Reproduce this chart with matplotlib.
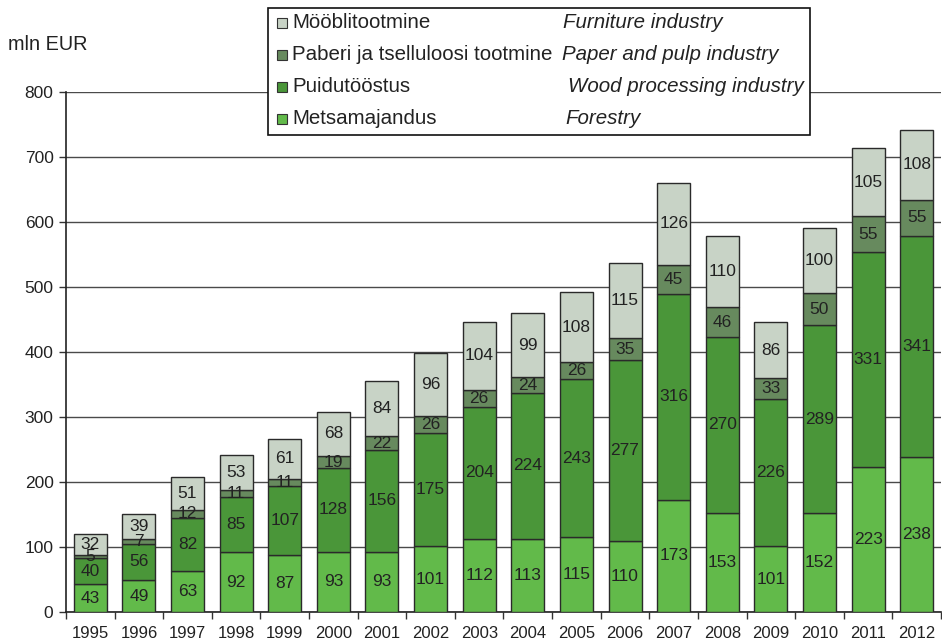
import matplotlib
matplotlib.use("Agg")
import matplotlib.pyplot as plt
from matplotlib.patches import Rectangle
import numpy as np

plt.rcParams['font.family'] = ['Liberation Sans', 'DejaVu Sans']

years = ['1995', '1996', '1997', '1998', '1999', '2000', '2001', '2002', '2003',
         '2004', '2005', '2006', '2007', '2008', '2009', '2010', '2011', '2012']
forestry = [43, 49, 63, 92, 87, 93, 93, 101, 112, 113, 115, 110, 173, 153, 101, 152, 223, 238]
wood = [40, 56, 82, 85, 107, 128, 156, 175, 204, 224, 243, 277, 316, 270, 226, 289, 331, 341]
paper = [5, 7, 12, 11, 11, 19, 22, 26, 26, 24, 26, 35, 45, 46, 33, 50, 55, 55]
furniture = [32, 39, 51, 53, 61, 68, 84, 96, 104, 99, 108, 115, 126, 110, 86, 100, 105, 108]

series_et = ['Metsamajandus', 'Puidutööstus', 'Paberi ja tselluloosi tootmine', 'Mööblitootmine']
series_en = ['Forestry', 'Wood processing industry', 'Paper and pulp industry', 'Furniture industry']
colors = ['#62BA4A', '#4A9639', '#678A5E', '#C8D3C6']
yticks = [0, 100, 200, 300, 400, 500, 600, 700, 800]

W, H = 942, 643
fig = plt.figure(figsize=(W / 100, H / 100), dpi=100)
ax = fig.add_axes([66 / W, 1 - 612 / H, (941 - 66) / W, (612 - 92) / H])

txtc = '#222222'
x = np.arange(len(years))
bottom = np.zeros(len(years))
for vals, col in zip([forestry, wood, paper, furniture], colors):
    v = np.array(vals, dtype=float)
    ax.bar(x, v, 0.68, bottom=bottom, color=col, edgecolor='#2a2a2a', linewidth=1.0, zorder=3)
    for xi, b, h in zip(x, bottom, v):
        ax.text(xi, b + h / 2, f'{int(h)}', ha='center', va='center', fontsize=12.5,
                color=txtc, zorder=4)
    bottom += v

ax.set_xlim(-0.5, len(years) - 0.5)
ax.set_ylim(0, 800)
ax.set_yticks(yticks)
ax.set_yticklabels([str(t) for t in yticks], fontsize=12.5, color=txtc)
ax.yaxis.grid(True, color='#4a4a4a', linewidth=1.0, zorder=0)
ax.set_axisbelow(True)
ax.set_xticks(np.arange(len(years) + 1) - 0.5)
ax.set_xticklabels([])
ax.set_xticks(x, minor=True)
ax.set_xticklabels(years, minor=True, fontsize=12, color=txtc)
ax.tick_params(axis='x', which='minor', length=0, pad=10)
ax.tick_params(axis='x', which='major', length=5, width=1, color='#333333', direction='out')
ax.tick_params(axis='y', length=5, width=1, color='#333333', direction='out', pad=4)
for s in ['top', 'right']:
    ax.spines[s].set_visible(False)
ax.spines['left'].set_color('#222222')
ax.spines['bottom'].set_color('#222222')
ax.spines['left'].set_linewidth(1.2)
ax.spines['bottom'].set_linewidth(1.2)

fig.text(8 / W, 1 - 45 / H, 'mln EUR', fontsize=14.3, color=txtc, ha='left', va='center')

# legend box
def fx(px):
    return px / W

def fy(py):
    return 1 - py / H

fig.patches.append(Rectangle((fx(268), fy(135)), (810 - 268) / W, (135 - 8) / H,
                             transform=fig.transFigure, facecolor='white',
                             edgecolor='#111111', linewidth=1.2, zorder=5))
rows_y = [23, 55, 87, 119]
en_x = [563, 562, 568, 565]
order = [3, 2, 1, 0]
for ry, idx, ex in zip(rows_y, order, en_x):
    fig.patches.append(Rectangle((fx(277), fy(ry + 5)), 10 / W, 10 / H,
                                 transform=fig.transFigure, facecolor=colors[idx],
                                 edgecolor='#333333', linewidth=0.8, zorder=6))
    fig.text(fx(292), fy(ry), series_et[idx], fontsize=14.8, color=txtc,
             ha='left', va='center', zorder=7)
    fig.text(fx(ex), fy(ry), series_en[idx], fontsize=14.8, color=txtc,
             style='italic', ha='left', va='center', zorder=7)

fig.savefig('out.png', dpi=100)
